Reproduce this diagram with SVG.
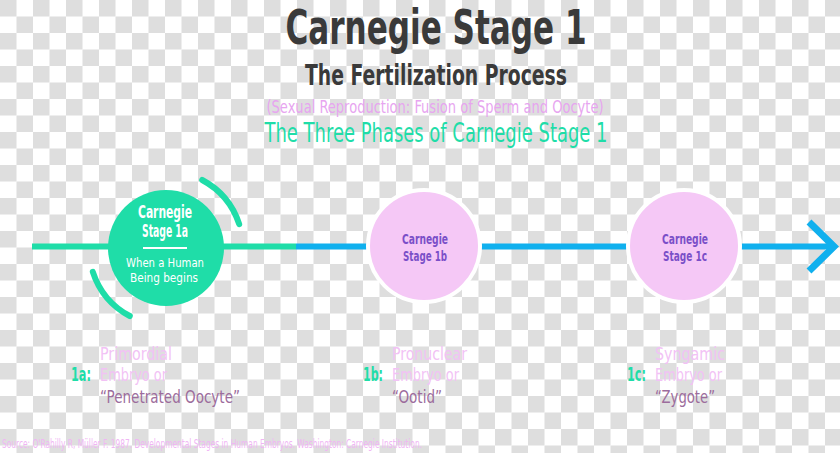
<svg xmlns="http://www.w3.org/2000/svg" width="840" height="453" viewBox="0 0 840 453">
<defs>
<pattern id="checker" width="33" height="33" patternUnits="userSpaceOnUse">
<rect width="33" height="33" fill="#ffffff"/>
<rect width="16.5" height="16.5" fill="#dedede"/>
<rect x="16.5" y="16.5" width="16.5" height="16.5" fill="#dedede"/>
</pattern>
</defs>
<style>
text{font-family:"Liberation Sans Narrow","DejaVu Sans Condensed","Liberation Sans",sans-serif;}
.c{text-anchor:middle;}
.b{font-weight:bold;}
.teal{fill:#1fdda8;}
.lp{fill:#f2c2f5;}
.mv{fill:#9c6c9c;}
.pu{fill:#7a4fc8;}
.wt{fill:#ffffff;}
</style>
<rect width="840" height="453" fill="url(#checker)"/>

<g id="title">
<text x="436" y="44" class="c b" font-size="48" fill="#3a3a3a" textLength="301" lengthAdjust="spacingAndGlyphs">Carnegie Stage 1</text>
<text x="436" y="85" class="c b" font-size="29" fill="#3a3a3a" textLength="262" lengthAdjust="spacingAndGlyphs">The Fertilization Process</text>
<text x="435" y="113" class="c" font-size="18" fill="#e7a5f0" textLength="337" lengthAdjust="spacingAndGlyphs">(Sexual Reproduction: Fusion of Sperm and Oocyte)</text>
<text x="436" y="142" class="c teal" font-size="26" textLength="343" lengthAdjust="spacingAndGlyphs">The Three Phases of Carnegie Stage 1</text>
</g>

<g id="connectors" fill="none" stroke-width="6">
<line x1="32" y1="246.5" x2="296" y2="246.5" stroke="#1fdda8"/>
<line x1="296" y1="246.5" x2="834" y2="246.5" stroke="#10b0ee"/>
<polyline points="809,222 834,246.5 809,271" stroke="#10b0ee" stroke-width="7"/>
</g>

<g id="node-1a">
<circle cx="166" cy="248" r="58" fill="#1fdda8"/>
<path d="M 202.2 180 A 77 77 0 0 1 239.2 224.2" fill="none" stroke="#1fdda8" stroke-width="6" stroke-linecap="round"/>
<path d="M 129.8 316 A 77 77 0 0 1 92.8 271.8" fill="none" stroke="#1fdda8" stroke-width="6" stroke-linecap="round"/>
<text x="165" y="218" class="c b wt" font-size="17" textLength="54" lengthAdjust="spacingAndGlyphs">Carnegie</text>
<text x="165" y="237" class="c b wt" font-size="17" textLength="46" lengthAdjust="spacingAndGlyphs">Stage 1a</text>
<line x1="143" y1="248" x2="187" y2="248" stroke="#ffffff" stroke-width="2"/>
<text x="165" y="267" class="c wt" font-size="13" textLength="78" lengthAdjust="spacingAndGlyphs">When a Human</text>
<text x="164" y="282" class="c wt" font-size="13" textLength="68" lengthAdjust="spacingAndGlyphs">Being begins</text>
</g>

<g id="node-1b">
<circle cx="424" cy="246" r="56" fill="#f5c8f6" stroke="#ffffff" stroke-width="4"/>
<text x="425" y="244" class="c b pu" font-size="14" textLength="46" lengthAdjust="spacingAndGlyphs">Carnegie</text>
<text x="425" y="261" class="c b pu" font-size="14" textLength="44" lengthAdjust="spacingAndGlyphs">Stage 1b</text>
</g>

<g id="node-1c">
<circle cx="684" cy="246" r="56" fill="#f5c8f6" stroke="#ffffff" stroke-width="4"/>
<text x="685" y="244" class="c b pu" font-size="14" textLength="46" lengthAdjust="spacingAndGlyphs">Carnegie</text>
<text x="685" y="261" class="c b pu" font-size="14" textLength="44" lengthAdjust="spacingAndGlyphs">Stage 1c</text>
</g>

<g id="label-1a">
<text x="71" y="381" class="b teal" font-size="20" textLength="20" lengthAdjust="spacingAndGlyphs">1a:</text>
<text x="100" y="360" class="lp" font-size="18" textLength="72" lengthAdjust="spacingAndGlyphs">Primordial</text>
<text x="100" y="381" class="lp" font-size="18" textLength="67" lengthAdjust="spacingAndGlyphs">Embryo or</text>
<text x="100" y="403" class="mv" font-size="18" textLength="140" lengthAdjust="spacingAndGlyphs">“Penetrated Oocyte”</text>
</g>

<g id="label-1b">
<text x="363" y="381" class="b teal" font-size="20" textLength="20" lengthAdjust="spacingAndGlyphs">1b:</text>
<text x="392" y="360" class="lp" font-size="18" textLength="75" lengthAdjust="spacingAndGlyphs">Pronuclear</text>
<text x="392" y="381" class="lp" font-size="18" textLength="67" lengthAdjust="spacingAndGlyphs">Embryo or</text>
<text x="392" y="403" class="mv" font-size="18" textLength="50" lengthAdjust="spacingAndGlyphs">“Ootid”</text>
</g>

<g id="label-1c">
<text x="627" y="381" class="b teal" font-size="20" textLength="19" lengthAdjust="spacingAndGlyphs">1c:</text>
<text x="655" y="360" class="lp" font-size="18" textLength="70" lengthAdjust="spacingAndGlyphs">Syngamic</text>
<text x="655" y="381" class="lp" font-size="18" textLength="67" lengthAdjust="spacingAndGlyphs">Embryo or</text>
<text x="655" y="403" class="mv" font-size="18" textLength="60" lengthAdjust="spacingAndGlyphs">“Zygote”</text>
</g>

<g id="source">
<text x="2" y="448" font-size="12" fill="#f0b6f4" textLength="420" lengthAdjust="spacingAndGlyphs">Source: O'Rahilly R, Müller F. 1987. Developmental Stages in Human Embryos. Washington: Carnegie Institution.</text>
</g>
</svg>
